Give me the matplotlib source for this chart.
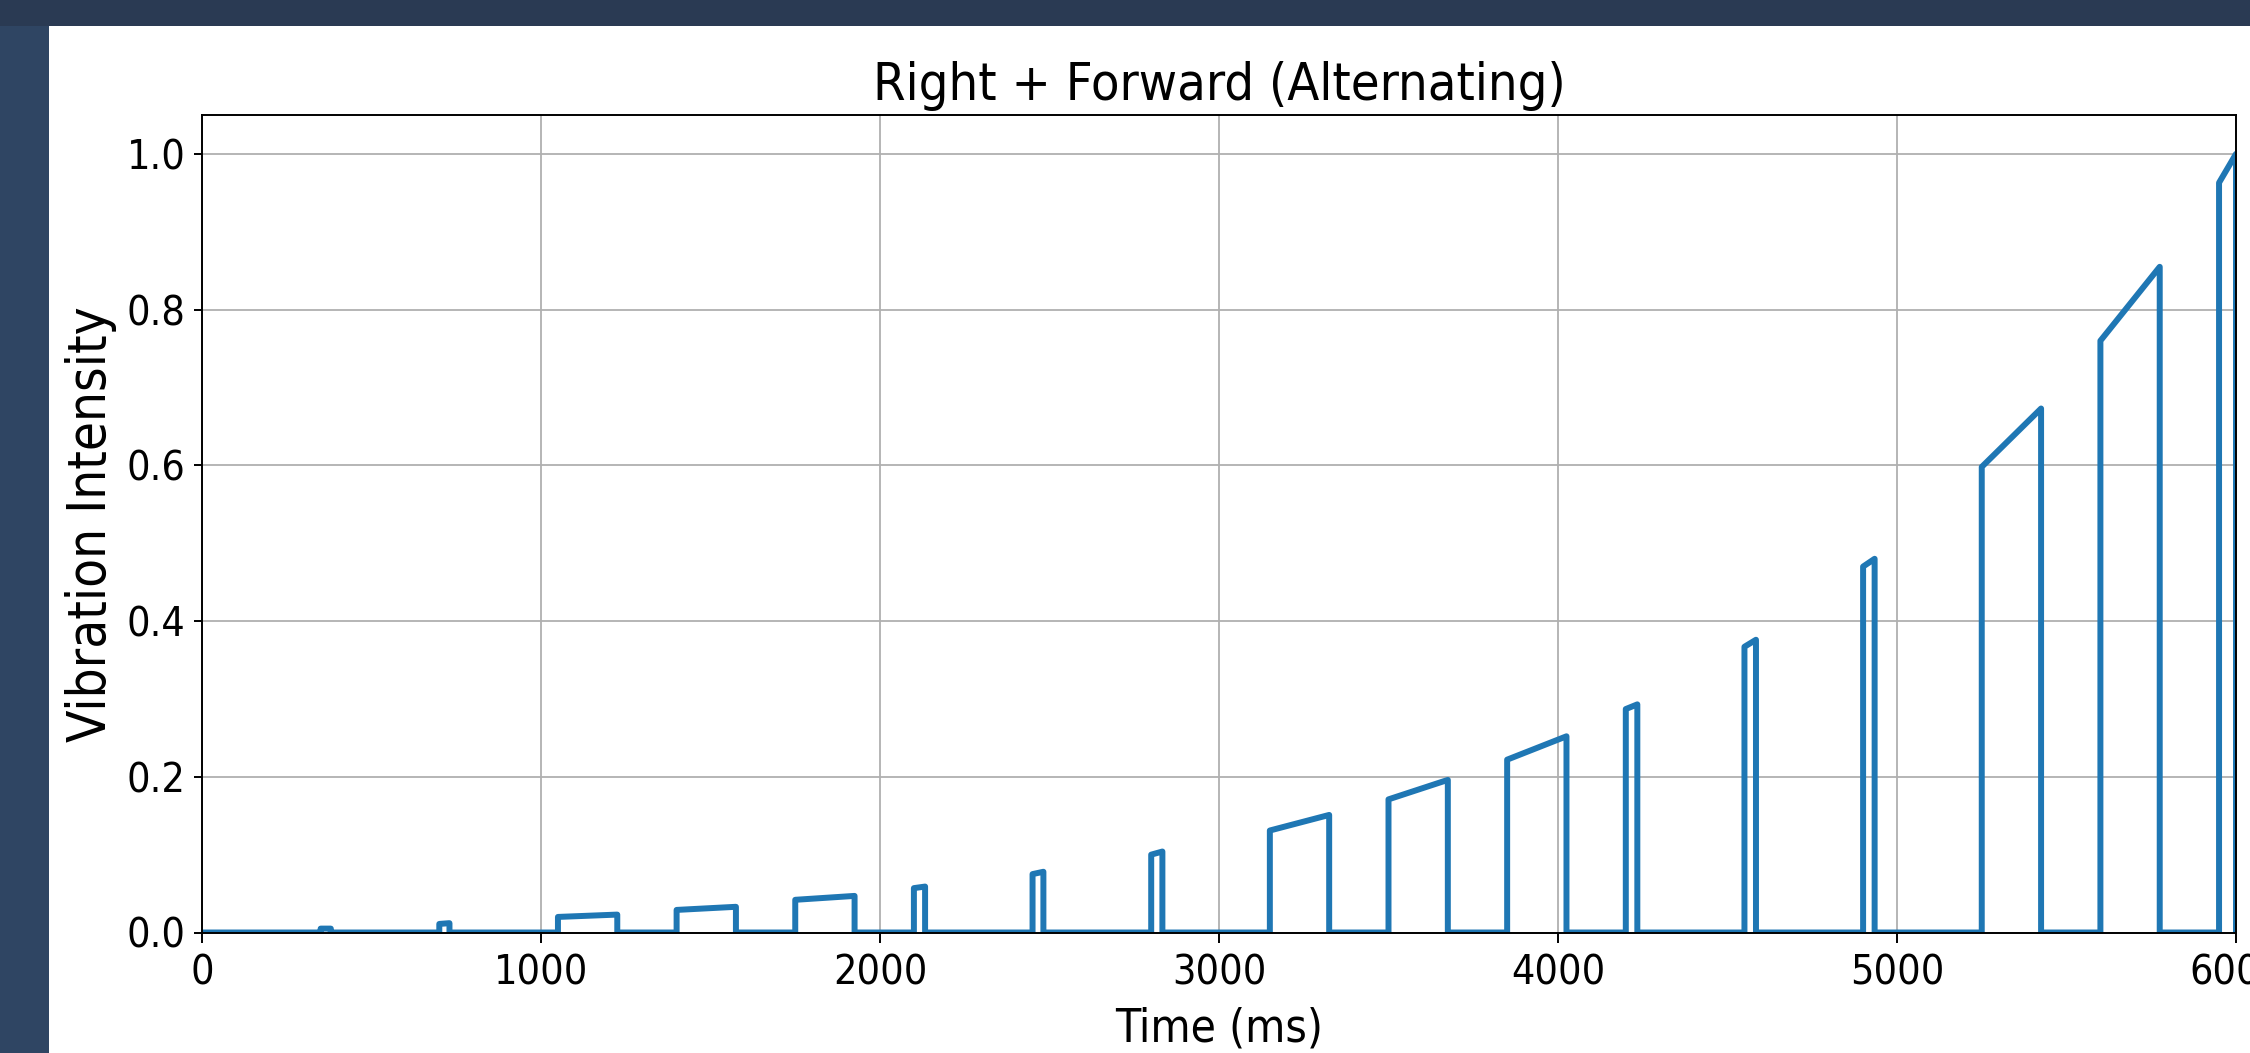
import matplotlib
matplotlib.use("Agg")
import matplotlib.pyplot as plt
from matplotlib import font_manager as fm
from matplotlib.patches import Rectangle

# pulses (ms, intensity at start / end of each pulse)
pulse_start = [350, 700, 1050, 1400, 1750, 2100, 2450, 2800, 3150, 3500,
               3850, 4200, 4550, 4900, 5250, 5600, 5950]
pulse_end = [380, 730, 1225, 1575, 1925, 2133, 2482, 2833, 3325, 3675,
             4025, 4234, 4584, 4934, 5425, 5775, 6000]
level_start = [0.005, 0.011, 0.020, 0.029, 0.042, 0.057, 0.075, 0.100, 0.131, 0.171,
               0.222, 0.287, 0.367, 0.470, 0.598, 0.760, 0.963]
level_end = [0.005, 0.012, 0.023, 0.033, 0.047, 0.059, 0.078, 0.104, 0.151, 0.196,
             0.252, 0.293, 0.376, 0.480, 0.673, 0.855, 1.000]

x_ticks = [0, 1000, 2000, 3000, 4000, 5000, 6000]
y_ticks = [0.0, 0.2, 0.4, 0.6, 0.8, 1.0]
t_max = 6000

# build the step/ramp trace
t = [0]
v = [0.0]
for s, e, a, b in zip(pulse_start, pulse_end, level_start, level_end):
    t += [s, s, e, e]
    v += [0.0, a, b, 0.0]
t.append(t_max + 500)
v.append(0.0)

# the reference text looks like DejaVu Sans Condensed; use it if it is there
cond_file = None
for f in fm.fontManager.ttflist:
    fn = f.fname.replace("\\", "/").split("/")[-1]
    if fn == "DejaVuSansCondensed.ttf":
        cond_file = f.fname
        break

if cond_file:
    def fp(size):
        return fm.FontProperties(fname=cond_file, size=size)
    sz_title, sz_ylab, sz_xlab, sz_tick = 37.5, 38, 33, 29.5
else:
    def fp(size):
        return fm.FontProperties(family="DejaVu Sans", size=size)
    sz_title, sz_ylab, sz_xlab, sz_tick = 34, 34, 31, 28

W, H = 2250, 1053
fig = plt.figure(figsize=(W / 100, H / 100), dpi=100)
fig.patch.set_facecolor("white")

# screenshot frame (dark bars at top and left)
left_bar = 49 / W
top_bar = 26 / H
fig.patches.append(Rectangle((0, 1 - top_bar), 1, top_bar, transform=fig.transFigure,
                             facecolor="#2a3a53", edgecolor="none", zorder=-1))
fig.patches.append(Rectangle((0, 0), left_bar, 1 - top_bar, transform=fig.transFigure,
                             facecolor="#2f4563", edgecolor="none", zorder=-1))

ax = fig.add_axes([202 / W, (H - 932.5) / H, (2236 - 202) / W, (932.5 - 115) / H])
ax.plot(t, v, color="#1f77b4", linewidth=4.3)
ax.set_xlim(0, t_max)
ax.set_ylim(0, 1.05)
ax.set_xticks(x_ticks)
ax.set_xticklabels([str(x) for x in x_ticks])
ax.set_yticks(y_ticks)
ax.set_yticklabels([f"{y:.1f}" for y in y_ticks])
ax.grid(True, color="#b0b0b0", linewidth=1.3)
ax.set_axisbelow(True)

ax.set_title("Right + Forward (Alternating)", fontproperties=fp(sz_title), pad=10.5)
ax.set_xlabel("Time (ms)", fontproperties=fp(sz_xlab), labelpad=9.5)
ax.set_ylabel("Vibration Intensity", fontproperties=fp(sz_ylab), labelpad=7)
ax.tick_params(axis="y", length=6, width=1.4, pad=6)
ax.tick_params(axis="x", length=7.2, width=1.4, pad=8)
for lbl in ax.get_xticklabels() + ax.get_yticklabels():
    lbl.set_fontproperties(fp(sz_tick))
for sp in ax.spines.values():
    sp.set_linewidth(1.4)

fig.savefig("out.png", dpi=100)
